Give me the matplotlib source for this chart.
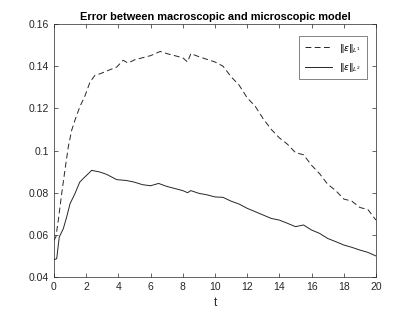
import matplotlib
matplotlib.use("Agg")
import matplotlib.pyplot as plt

plt.rcParams['font.family'] = ['Liberation Sans', 'DejaVu Sans']

t1 = [0, 0.12, 0.27, 0.48, 0.68, 0.89, 1.1, 1.3, 1.6, 1.93, 2.24, 2.55, 2.86, 3.37, 3.9, 4.3,
      4.6, 5, 6, 6.6, 7, 8, 8.3, 8.5, 9, 10, 10.5, 11, 11.5,
      12, 12.5, 13, 13.5, 14, 14.5, 15, 15.5, 16, 16.5, 17, 17.5, 18, 18.5, 19, 19.5, 20]
l1 = [0.0574, 0.059, 0.0669, 0.0795, 0.0906, 0.1017, 0.1096, 0.1143, 0.1206, 0.126, 0.1325,
      0.1357, 0.1364, 0.138, 0.1396, 0.1428, 0.1415, 0.143, 0.145, 0.147,
      0.146, 0.144, 0.142, 0.146, 0.1445, 0.142, 0.140, 0.135, 0.131, 0.125, 0.121, 0.115,
      0.110, 0.106, 0.103, 0.099, 0.098, 0.093, 0.089, 0.084, 0.081, 0.077, 0.076, 0.073,
      0.072, 0.067]

t2 = [0, 0.17, 0.33, 0.58, 0.79, 1.0, 1.3, 1.6, 1.8, 2.13, 2.34, 2.86, 3.27, 3.9, 4.5, 5, 5.5,
      6, 6.5, 7, 8, 8.3, 8.5, 9, 9.5, 10, 10.5, 11, 11.5, 12, 12.5, 13, 13.5, 14, 14.5, 15,
      15.5, 16, 16.5, 17, 17.5, 18, 18.5, 19, 19.5, 20]
l2 = [0.0482, 0.0487, 0.059, 0.0629, 0.0685, 0.0748, 0.0795, 0.085, 0.0866, 0.089, 0.0906,
      0.0898, 0.0887, 0.0862, 0.0858, 0.085, 0.0838, 0.0833, 0.0844, 0.083, 0.081, 0.080,
      0.081, 0.0797, 0.079, 0.078, 0.0778, 0.076, 0.0746, 0.0726, 0.071, 0.0694, 0.0678,
      0.067, 0.0655, 0.0639, 0.0647, 0.0623, 0.0607, 0.0583, 0.0568, 0.0552, 0.0541, 0.0528,
      0.0517, 0.050]

xticks = [0, 2, 4, 6, 8, 10, 12, 14, 16, 18, 20]
yticks = [0.04, 0.06, 0.08, 0.1, 0.12, 0.14, 0.16]
yticklabels = ['0.04', '0.06', '0.08', '0.1', '0.12', '0.14', '0.16']

fig = plt.figure(figsize=(4.15, 3.12), dpi=100)
ax = fig.add_axes([0.130, 0.112, 0.776, 0.811])
ax.plot(t1, l1, color='#262626', linestyle=(0, (6, 3.5)), linewidth=0.7, label=r'$\|\epsilon\|_{L^1}$')
ax.plot(t2, l2, color='#262626', linestyle='-', linewidth=0.7, label=r'$\|\epsilon\|_{L^2}$')
ax.set_xlim(0, 20)
ax.set_ylim(0.04, 0.16)
ax.set_xticks(xticks)
ax.set_yticks(yticks)
ax.set_yticklabels(yticklabels)
ax.tick_params(direction='in', top=True, right=True, labelsize=7.5, length=3,
               width=0.5, colors='#262626')
for s in ax.spines.values():
    s.set_linewidth(0.5)
    s.set_color('#262626')
ax.set_xlabel('t', fontsize=8.5, labelpad=4, color='#262626')
ax.set_title('Error between macroscopic and microscopic model', fontsize=7.9,
             fontweight='bold', pad=3)
leg = ax.legend(loc='upper right', fontsize=6.5, fancybox=False, edgecolor='#262626',
                handlelength=3, borderpad=0.6, labelspacing=0.7,
                bbox_to_anchor=(0.985, 0.97))
leg.get_frame().set_linewidth(0.5)
fig.savefig('out.png', dpi=100)
